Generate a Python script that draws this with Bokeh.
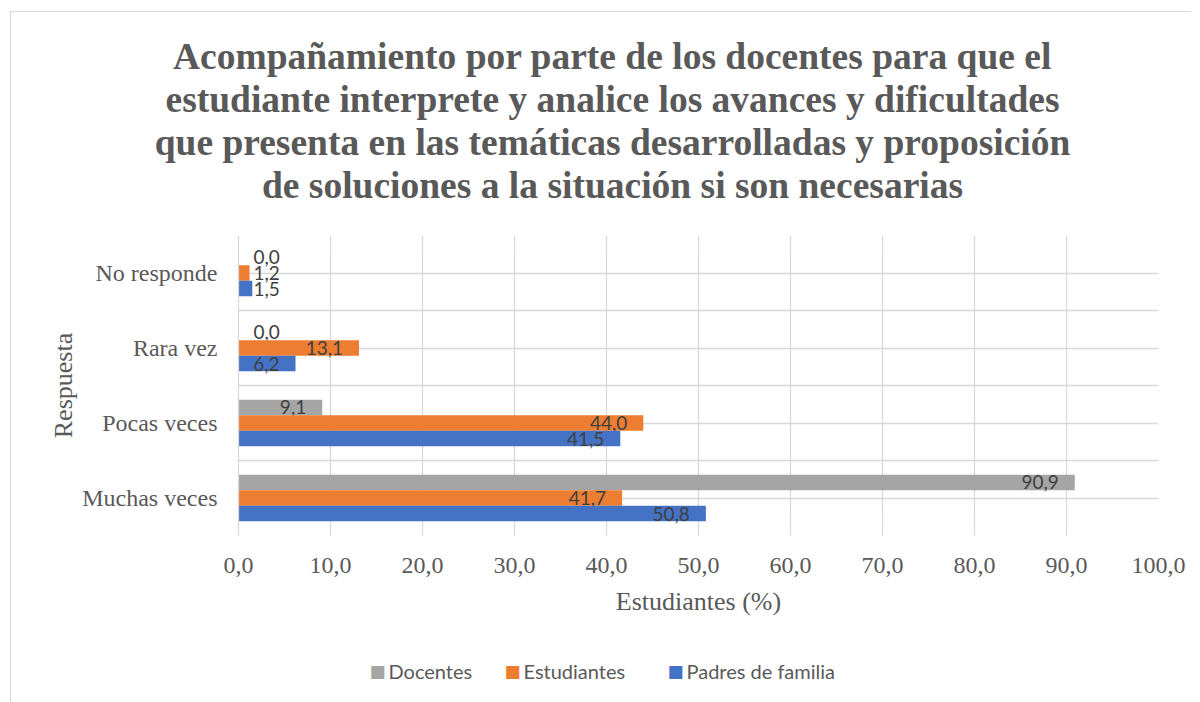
from bokeh.plotting import figure
from bokeh.models import (FactorRange, Range1d, ColumnDataSource, FixedTicker,
                          SingleIntervalTicker, CustomJSTickFormatter, Label)
from bokeh.transform import dodge
from bokeh.core.properties import value
from bokeh.embed import file_html
from bokeh.resources import INLINE

# ---------------- data ----------------
categories = ["Muchas veces", "Pocas veces", "Rara vez", "No responde"]
docentes = [90.9, 9.1, 0.0, 0.0]
estudiantes = [41.7, 44.0, 13.1, 1.2]
padres = [50.8, 41.5, 6.2, 1.5]
series_names = ["Docentes", "Estudiantes", "Padres de familia"]
series_colors = ["#A5A5A5", "#ED7D31", "#4472C4"]
title_lines = [
    "Acompañamiento por parte de los docentes para que el",
    "estudiante interprete y analice los avances y dificultades",
    "que presenta en las temáticas desarrolladas y proposición",
    "de soluciones a la situación si son necesarias",
]
x_title = "Estudiantes (%)"
y_title = "Respuesta"

# ---------------- layout ----------------
FRAME_W, FRAME_H = 920, 300
ORIGIN_X, ORIGIN_Y = 11, 12          # canvas position on page
FRAME_LEFT_PX, FRAME_TOP_PX = 238, 235
X_MAX = 100.0
LEGEND_ITEM_PX = [370, 505, 668]     # left edge of each legend swatch (page px)
LEGEND_CENTER_PY = 670

serif = "Liberation Serif"
sans = "Lato"
txt_col = "#595959"
grid_col = "#d9d9d9"

p = figure(
    y_range=FactorRange(factors=categories, range_padding=0),
    x_range=Range1d(0, X_MAX),
    frame_width=FRAME_W, frame_height=FRAME_H,
    min_border_left=FRAME_LEFT_PX - ORIGIN_X,
    min_border_right=1180 - (FRAME_LEFT_PX - ORIGIN_X) - FRAME_W,
    min_border_top=FRAME_TOP_PX - ORIGIN_Y,
    min_border_bottom=680 - (FRAME_TOP_PX - ORIGIN_Y) - FRAME_H,
    output_backend="svg", toolbar_location=None,
)
p.styles = {"margin-left": "10px", "margin-top": "11px",
            "border-left": "1px solid #d9d9d9", "border-top": "1px solid #d9d9d9"}
p.outline_line_color = None
p.background_fill_color = "white"
p.border_fill_color = "white"

# grids
p.xgrid.ticker = SingleIntervalTicker(interval=10)
p.xgrid.grid_line_color = grid_col
p.xgrid.grid_line_width = 1.3
p.ygrid.ticker = FixedTicker(ticks=[i * 0.5 for i in range(2 * len(categories) + 1)])
p.ygrid.grid_line_color = grid_col
p.ygrid.grid_line_width = 1.3

# x axis
xa = p.xaxis[0]
xa.ticker = SingleIntervalTicker(interval=10)
xa.formatter = CustomJSTickFormatter(code="return tick.toFixed(1).replace('.', ',');")
xa.axis_line_color = None
xa.major_tick_line_color = None
xa.minor_tick_line_color = None
xa.major_label_text_font = serif
xa.major_label_text_font_size = "24px"
xa.major_label_text_color = txt_col
xa.major_label_standoff = 16
xa.axis_label = x_title
xa.axis_label_text_font = serif
xa.axis_label_text_font_style = "normal"
xa.axis_label_text_font_size = "26px"
xa.axis_label_text_color = txt_col
xa.axis_label_standoff = 11

# y axis
ya = p.yaxis[0]
ya.axis_line_color = grid_col
ya.axis_line_width = 1.3
ya.major_tick_line_color = None
ya.minor_tick_line_color = None
ya.major_label_text_font = serif
ya.major_label_text_font_size = "24px"
ya.major_label_text_color = txt_col
ya.major_label_standoff = 15
ya.axis_label = y_title
ya.axis_label_text_font = serif
ya.axis_label_text_font_style = "normal"
ya.axis_label_text_font_size = "26px"
ya.axis_label_text_color = txt_col
ya.axis_label_standoff = 1

# bars
bar_h = 0.207
offsets = [bar_h, 0.0, -bar_h]
all_values = [docentes, estudiantes, padres]
px_per_unit = FRAME_W / X_MAX


def fmt(v):
    return f"{v:.1f}".replace(".", ",")


for name, vals, color, off in zip(series_names, all_values, series_colors, offsets):
    src = ColumnDataSource(dict(cat=categories, v=vals))
    p.hbar(y=dodge("cat", off, range=p.y_range), left=0, right="v",
           height=bar_h, fill_color=color, line_color=None, source=src)

    big = [(c, v) for c, v in zip(categories, vals) if v * px_per_unit >= 50]
    small = [(c, v) for c, v in zip(categories, vals) if v * px_per_unit < 50]
    if big:
        sb = ColumnDataSource(dict(cat=[c for c, _ in big], v=[v for _, v in big],
                                   lab=[fmt(v) for _, v in big]))
        p.text(x="v", y=dodge("cat", off, range=p.y_range), text="lab", source=sb,
               text_align="right", text_baseline="middle", x_offset=-16,
               text_font=value(sans), text_font_size="19px", text_color="#404040")
    if small:
        ss = ColumnDataSource(dict(cat=[c for c, _ in small], v=[0.0] * len(small),
                                   lab=[fmt(v) for _, v in small]))
        p.text(x="v", y=dodge("cat", off, range=p.y_range), text="lab", source=ss,
               text_align="left", text_baseline="middle", x_offset=15,
               text_font=value(sans), text_font_size="19px", text_color="#404040")

# helpers to place annotations outside the frame (side panels are not clipped)
n_cat = len(categories)
cat_px = FRAME_H / n_cat


def py_to_y(py):
    return n_cat + (FRAME_TOP_PX - py) / cat_px


def px_to_x(px):
    return (px - FRAME_LEFT_PX) / px_per_unit


# legend (below the chart)
for name, color, lx in zip(series_names, series_colors, LEGEND_ITEM_PX):
    p.add_layout(Label(x=px_to_x(lx - 1), y=py_to_y(LEGEND_CENTER_PY), text="■",
                       text_align="left", text_baseline="middle",
                       text_font="DejaVu Sans", text_font_size="17px",
                       text_color=color), "below")
    p.add_layout(Label(x=px_to_x(lx + 18), y=py_to_y(LEGEND_CENTER_PY), text=name,
                       text_align="left", text_baseline="middle",
                       text_font=sans, text_font_size="20px",
                       text_color=txt_col), "below")

# title (multi-line, centred on the chart)
title_center_x = px_to_x(612)
baselines = [56, 99, 142, 185]
for line, bl in zip(title_lines, baselines):
    p.add_layout(Label(x=title_center_x, y=py_to_y(bl), text=line,
                       text_align="center", text_baseline="alphabetic",
                       text_font=serif, text_font_style="bold",
                       text_font_size="37.5px", text_color=txt_col), "above")

open("out.html", "w").write(file_html(p, INLINE))
